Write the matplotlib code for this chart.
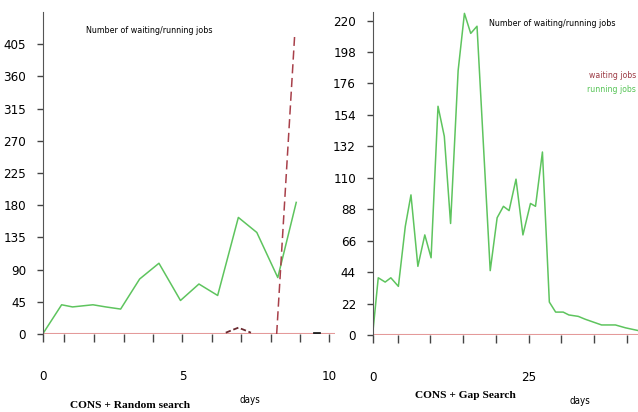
import matplotlib
matplotlib.use("Agg")
import matplotlib.pyplot as plt
from matplotlib.ticker import FixedLocator

# CONS + Random search (left)
rand_days = [0, 0.68, 1.07, 1.8, 2.26, 2.79, 3.47, 4.16, 4.93, 5.59, 6.26, 7.0, 7.66, 8.41, 9.07]
rand_running = [0, 41, 38, 41, 38, 35, 77, 99, 47, 70, 54, 163, 142, 79, 184]
rand_wait_days = [8.37, 9.01]
rand_waiting = [0, 415]
bump_days = [6.55, 6.8, 7.0, 7.2, 7.45]
bump_waiting = [2, 6, 9, 6, 2]
mark_days = [9.7, 9.9]
mark_vals = [1, 1]

# CONS + Gap Search (right)
gap_days = [0, 0.9, 2.0, 2.9, 4.1, 5.2, 6.1, 7.2, 8.3, 9.3, 10.4, 11.4, 12.4, 13.6, 14.6,
            15.6, 16.6, 18.7, 19.8, 20.8, 21.7, 22.8, 23.9, 25.1, 25.9, 27.0, 28.1, 29.1,
            30.3, 31.2, 32.7, 33.8, 35.1, 36.4, 38.6, 40.2, 42.3, 43.0]
gap_running = [0, 40, 37, 40, 34, 76, 98, 48, 70, 54, 160, 139, 78, 185, 225,
               211, 216, 45, 82, 90, 87, 109, 70, 92, 90, 128, 23, 16,
               16, 14, 13, 11, 9, 7, 7, 5, 3, 2.5]

left_yticks = [0, 45, 90, 135, 180, 225, 270, 315, 360, 405]
right_yticks = [0, 22, 44, 66, 88, 110, 132, 154, 176, 198, 220]
left_minor = [0.77, 1.84, 2.9, 3.95, 6.06, 7.1, 8.15, 9.2]
right_minor = [4.0, 9.2, 14.4, 19.6, 30.0, 35.2, 40.4]

green = "#5ec45e"
red_base = "#e49a9a"
red_dash = "#a8404a"
narrow = dict(family="DejaVu Sans", stretch="condensed")

fig = plt.figure(figsize=(6.38, 4.12), dpi=100)
ax1 = fig.add_axes([0.0668, 0.189, 0.458, 0.782])
ax2 = fig.add_axes([0.584, 0.187, 0.420, 0.784])

for ax in (ax1, ax2):
    for s in ("top", "right"):
        ax.spines[s].set_visible(False)
    ax.spines["left"].set_color("#555555")
    ax.spines["bottom"].set_visible(False)
    ax.tick_params(axis="y", length=4, width=1, color="#444444", pad=8, labelsize=9.5)
    ax.tick_params(axis="x", which="both", length=6, width=1, color="#444444", pad=20, labelsize=9.5)

# left panel
ax1.axhline(0, color=red_base, lw=1.5, zorder=1)
ax1.plot(rand_days, rand_running, color=green, lw=1.1)
ax1.plot(rand_wait_days, rand_waiting, color=red_dash, lw=1.1, ls=(0, (6, 3)))
ax1.plot(bump_days, bump_waiting, color="#6a2a30", lw=1.3, ls=(0, (3, 1.5)))
ax1.plot(mark_days, mark_vals, color="#222222", lw=2)
ax1.set_xlim(0, 10.45)
ax1.set_ylim(0, 450)
ax1.set_yticks(left_yticks)
ax1.set_xticks([0, 5, 10.25])
ax1.set_xticklabels(["0", "5", "10"])
ax1.xaxis.set_minor_locator(FixedLocator(left_minor))
ax1.text(0.15, 0.935, "Number of waiting/running jobs", transform=ax1.transAxes,
         fontsize=6.4, **narrow)

# right panel
ax2.axhline(0, color=red_base, lw=1.5, zorder=1)
ax2.plot(gap_days, gap_running, color=green, lw=1.1)
ax2.set_xlim(0, 42.6)
ax2.set_ylim(0, 226)
ax2.set_yticks(right_yticks)
ax2.set_xticks([0, 24.8])
ax2.set_xticklabels(["0", "25"])
ax2.xaxis.set_minor_locator(FixedLocator(right_minor))
ax2.text(0.435, 0.955, "Number of waiting/running jobs", transform=ax2.transAxes,
         fontsize=6.4, **narrow)

# legend text at the right edge
fig.text(636 / 638, 1 - 75 / 412, "waiting jobs", ha="right", va="center", color="#9c3a44",
         fontsize=6.2, **narrow)
fig.text(636 / 638, 1 - 90 / 412, "running jobs", ha="right", va="center", color="#55c455",
         fontsize=6.2, **narrow)

for ax in (ax1, ax2):
    for lab in ax.get_xticklabels() + ax.get_yticklabels():
        lab.set_family(narrow["family"])
        lab.set_stretch(narrow["stretch"])

# captions under the axes
fig.text(130 / 638, 1 - 405 / 412, "CONS + Random search", ha="center", va="center",
         family="Liberation Serif", fontweight="bold", fontsize=8.2)
fig.text(250 / 638, 1 - 400 / 412, "days", ha="center", va="center", fontsize=7, **narrow)
fig.text(465 / 638, 1 - 396 / 412, "CONS + Gap Search", ha="center", va="center",
         family="Liberation Serif", fontweight="bold", fontsize=8.2)
fig.text(580 / 638, 1 - 401 / 412, "days", ha="center", va="center", fontsize=7, **narrow)

fig.savefig("out.png", dpi=100)
